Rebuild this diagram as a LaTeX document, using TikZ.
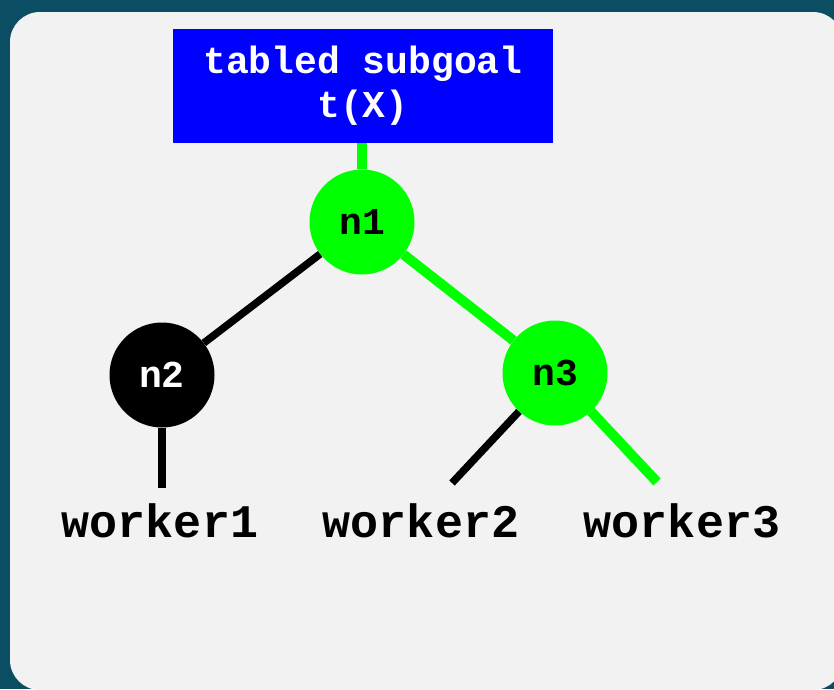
\documentclass[tikz,border=0pt]{standalone}
\usepackage{fontspec}
\setmainfont{Liberation Mono}
\usetikzlibrary{positioning}
\definecolor{slate}{HTML}{0B4D63}
\definecolor{panel}{HTML}{F2F2F2}
\definecolor{hot}{HTML}{00FF00}
\definecolor{goalblue}{HTML}{0000FF}

\begin{document}
\begin{tikzpicture}[x=1pt,y=-1pt,
    treenode/.style={circle,minimum size=105pt,inner sep=0pt,
      font=\fontsize{38}{44}\selectfont\bfseries},
    hotnode/.style={treenode,fill=hot,text=black},
    coldnode/.style={treenode,fill=black,text=white},
    hotedge/.style={hot,line width=10pt},
    coldedge/.style={black,line width=7.5pt},
    worker/.style={font=\fontsize{46.7}{50}\selectfont\bfseries}]
  \useasboundingbox (0,0) rectangle (834,689);
  %%%%% BACKGROUND
  \fill[slate] (0,0) rectangle (834,689);
  \fill[panel,rounded corners=30pt] (10,12) rectangle (843,690);
  %%%%% THE GOAL
  \node[fill=goalblue,text=white,minimum width=380pt,minimum height=114pt,
    align=center,font=\fontsize{38}{44}\selectfont\bfseries] (GOAL) at (363,86)
    {tabled subgoal\\t(X)};
  %%%%% THE TREE
  \node[hotnode] (N1) at (362,222) {n1};
  \node[coldnode] (N2) at (162,375) {n2};
  \node[hotnode] (N3) at (555,373) {n3};
  \coordinate (END1) at (162,488);
  \coordinate (END2) at (452,483);
  \coordinate (END3) at (657,482);
  % Node links within the tree
  \draw[hotedge] (GOAL.south -| N1) -- (N1);
  \draw[coldedge] (N1) -- (N2);
  \draw[hotedge] (N1) -- (N3);
  \draw[coldedge] (N2) -- (END1);
  \draw[coldedge] (N3) -- (END2);
  \draw[hotedge] (N3) -- (END3);
  %%%%% THE WORKERS
  \node[worker] (W1) at (160,521) {worker1};
  \node[worker] (W2) at (421,521) {worker2};
  \node[worker] (W3) at (682,521) {worker3};
\end{tikzpicture}
\end{document}
